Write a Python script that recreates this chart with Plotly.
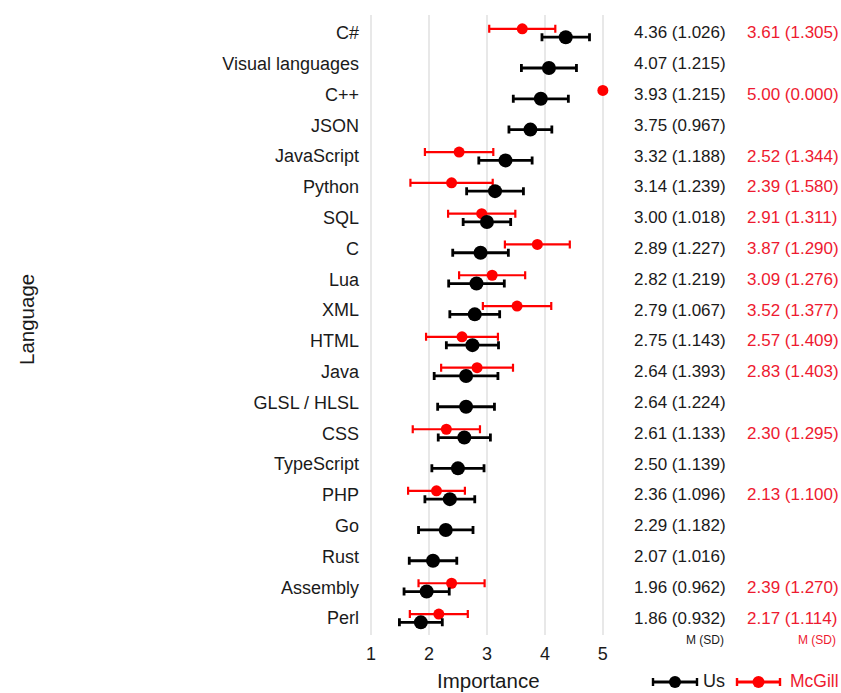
import plotly.graph_objects as go

languages = ["C#", "Visual languages", "C++", "JSON", "JavaScript", "Python", "SQL", "C",
             "Lua", "XML", "HTML", "Java", "GLSL / HLSL", "CSS", "TypeScript", "PHP",
             "Go", "Rust", "Assembly", "Perl"]
us_mean = [4.36, 4.07, 3.93, 3.75, 3.32, 3.14, 3.00, 2.89, 2.82, 2.79, 2.75, 2.64, 2.64,
           2.61, 2.50, 2.36, 2.29, 2.07, 1.96, 1.86]
us_sd = [1.026, 1.215, 1.215, 0.967, 1.188, 1.239, 1.018, 1.227, 1.219, 1.067, 1.143,
         1.393, 1.224, 1.133, 1.139, 1.096, 1.182, 1.016, 0.962, 0.932]
us_ci = [0.41, 0.475, 0.475, 0.37, 0.46, 0.49, 0.41, 0.48, 0.48, 0.43, 0.45, 0.55, 0.49,
         0.45, 0.45, 0.43, 0.47, 0.41, 0.39, 0.37]
mcgill_mean = [3.61, None, 5.00, None, 2.52, 2.39, 2.91, 3.87, 3.09, 3.52, 2.57, 2.83, None,
               2.30, None, 2.13, None, None, 2.39, 2.17]
mcgill_sd = [1.305, None, 0.000, None, 1.344, 1.580, 1.311, 1.290, 1.276, 1.377, 1.409,
             1.403, None, 1.295, None, 1.100, None, None, 1.270, 1.114]
mcgill_ci = [0.57, None, 0.0, None, 0.59, 0.71, 0.58, 0.56, 0.57, 0.59, 0.62, 0.62, None,
             0.58, None, 0.49, None, None, 0.57, 0.50]
x_ticks = [1, 2, 3, 4, 5]

FONT = "Liberation Sans, Arial, Helvetica, sans-serif"
BLACK = "#000000"
RED = "#ff0000"
RED_TXT = "#ee1a30"
TXT = "#1a1a1a"

W, H = 841, 693
L, R, T, B = 360, 226, 15, 58
PW, PH = W - L - R, H - T - B

def px_x(px):
    return (px - L) / PW

def px_y(py):
    return (H - B - py) / PH

idx = list(range(len(languages)))
red_idx = [i for i in idx if mcgill_mean[i] is not None]

fig = go.Figure()

fig.add_trace(go.Scatter(
    x=[mcgill_mean[i] for i in red_idx],
    y=[i - 0.13 for i in red_idx],
    mode="markers",
    marker=dict(color=RED, size=11),
    error_x=dict(type="data", array=[mcgill_ci[i] for i in red_idx], color=RED,
                 thickness=2.2, width=4),
    showlegend=False, hoverinfo="skip"))

fig.add_trace(go.Scatter(
    x=us_mean, y=[i + 0.14 for i in idx],
    mode="markers",
    marker=dict(color=BLACK, size=14),
    error_x=dict(type="data", array=us_ci, color=BLACK, thickness=2.8, width=4),
    showlegend=False, hoverinfo="skip"))

annotations = []
for i in idx:
    annotations.append(dict(
        x=px_x(632), xref="paper", y=i, yref="y", xanchor="left", yanchor="middle",
        text=f"{us_mean[i]:.2f} ({us_sd[i]:.3f})", showarrow=False,
        font=dict(family=FONT, size=17, color=TXT)))
    if mcgill_mean[i] is not None:
        annotations.append(dict(
            x=px_x(745), xref="paper", y=i, yref="y", xanchor="left", yanchor="middle",
            text=f"{mcgill_mean[i]:.2f} ({mcgill_sd[i]:.3f})", showarrow=False,
            font=dict(family=FONT, size=17, color=RED_TXT)))

annotations += [
    dict(x=px_x(726), xref="paper", y=px_y(640), yref="paper", xanchor="right",
         yanchor="middle", text="M (SD)", showarrow=False,
         font=dict(family=FONT, size=12, color=TXT)),
    dict(x=px_x(838), xref="paper", y=px_y(640), yref="paper", xanchor="right",
         yanchor="middle", text="M (SD)", showarrow=False,
         font=dict(family=FONT, size=12, color=RED_TXT)),
    dict(x=px_x(26), xref="paper", y=px_y(320), yref="paper", xanchor="center",
         yanchor="middle", text="Language", textangle=-90, showarrow=False,
         font=dict(family=FONT, size=20.5, color=TXT)),
    dict(x=px_x(488), xref="paper", y=px_y(680), yref="paper", xanchor="center",
         yanchor="middle", text="Importance", showarrow=False,
         font=dict(family=FONT, size=20.5, color=TXT)),
    dict(x=px_x(701), xref="paper", y=px_y(681), yref="paper", xanchor="left",
         yanchor="middle", text="Us", showarrow=False,
         font=dict(family=FONT, size=18, color=TXT)),
    dict(x=px_x(788), xref="paper", y=px_y(681), yref="paper", xanchor="left",
         yanchor="middle", text="McGill", showarrow=False,
         font=dict(family=FONT, size=17.5, color=RED_TXT)),
]

shapes = []
def legend_item(x0, x1, y, color, r):
    xc = (x0 + x1) / 2
    shapes.append(dict(type="line", xref="paper", yref="paper", x0=px_x(x0), x1=px_x(x1),
                       y0=px_y(y), y1=px_y(y), line=dict(color=color, width=2.8)))
    for xe in (x0, x1):
        shapes.append(dict(type="line", xref="paper", yref="paper", x0=px_x(xe), x1=px_x(xe),
                           y0=px_y(y - 4), y1=px_y(y + 4), line=dict(color=color, width=2.4)))
    shapes.append(dict(type="circle", xref="paper", yref="paper",
                       x0=px_x(xc - r), x1=px_x(xc + r), y0=px_y(y + r), y1=px_y(y - r),
                       fillcolor=color, line=dict(color=color, width=0)))

legend_item(653, 697, 682, BLACK, 6)
legend_item(737, 780, 682, RED, 6)

fig.update_layout(
    width=W, height=H,
    margin=dict(l=L, r=R, t=T, b=B),
    paper_bgcolor="white", plot_bgcolor="white",
    font=dict(family=FONT, color=TXT),
    annotations=annotations, shapes=shapes,
    xaxis=dict(range=[0.81, 5.21], tickvals=x_ticks, ticktext=[str(v) for v in x_ticks],
               showgrid=True, gridcolor="#e8e8e8", gridwidth=1.5, zeroline=False,
               showline=False, ticks="", ticklabelstandoff=6,
               tickfont=dict(family=FONT, size=18, color=TXT)),
    yaxis=dict(range=[19.55, -0.58], tickvals=idx, ticktext=languages, showgrid=False,
               zeroline=False, showline=False, ticks="",
               tickfont=dict(family=FONT, size=18, color=TXT)),
)

fig.write_html("out.html", config={"displayModeBar": False},
               post_script="document.body.style.margin='0';document.body.style.overflow='hidden';")
